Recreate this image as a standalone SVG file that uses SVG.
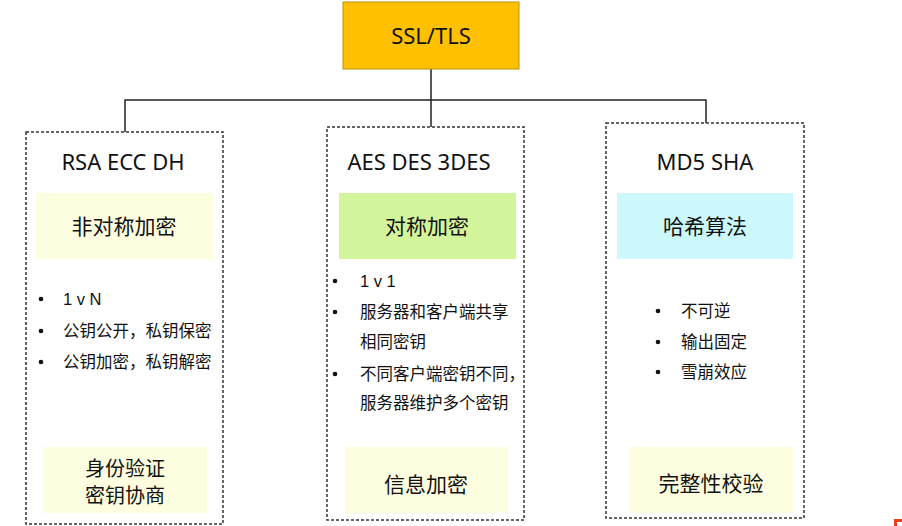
<svg xmlns="http://www.w3.org/2000/svg" width="902" height="526" viewBox="0 0 902 526">
<style>
.grp{fill:none;stroke:#333;stroke-width:1.5;stroke-dasharray:3 2}
.conn{fill:none;stroke:#222;stroke-width:1.5}
.t{font-family:"Noto Sans","Noto Sans CJK SC",sans-serif;fill:#111}
.hd{font-size:22px;text-anchor:middle}
.cn{font-family:"Noto Sans CJK SC","Noto Sans",sans-serif;fill:#111;font-size:21px;text-anchor:middle}
.cn2{font-family:"Noto Sans CJK SC","Noto Sans",sans-serif;fill:#111;font-size:20px;text-anchor:middle}
.li{font-family:"Liberation Sans","Noto Sans CJK SC",sans-serif;fill:#111;font-size:16.5px}
.bul{fill:#111}
</style>
<rect width="902" height="526" fill="#fff"/>
<g id="connectors">
<path class="conn" d="M431 69V100M125 132V100H706V123M431 100V127"/>
</g>
<g id="root">
<rect x="343" y="2" width="176" height="67" fill="#ffc000" stroke="#bf9000" stroke-width="1"/>
<text class="t" x="431" y="44" font-size="22" text-anchor="middle">SSL/TLS</text>
</g>
<g id="asym">
<rect class="grp" x="26" y="132" width="197" height="392"/>
<text class="t hd" x="123" y="170">RSA ECC DH</text>
<rect x="36" y="193" width="177" height="66" fill="#fdfde0"/>
<text class="cn" x="124" y="234">非对称加密</text>
<circle class="bul" cx="41" cy="299" r="2.3"/>
<circle class="bul" cx="41" cy="331" r="2.3"/>
<circle class="bul" cx="41" cy="362" r="2.3"/>
<text class="li" x="63" y="305">1 v N</text>
<text class="li" x="63" y="337">公钥公开，私钥保密</text>
<text class="li" x="63" y="368">公钥加密，私钥解密</text>
<rect x="43" y="447" width="164" height="66" fill="#fdfde0"/>
<text class="cn2" x="125" y="476">身份验证</text>
<text class="cn2" x="125" y="503">密钥协商</text>
</g>
<g id="sym">
<rect class="grp" x="327" y="127" width="197" height="393"/>
<text class="t hd" x="419" y="170">AES DES 3DES</text>
<rect x="339" y="193" width="177" height="66" fill="#d3f49b"/>
<text class="cn" x="427" y="234">对称加密</text>
<circle class="bul" cx="335" cy="281" r="2.3"/>
<circle class="bul" cx="335" cy="312" r="2.3"/>
<circle class="bul" cx="335" cy="374" r="2.3"/>
<text class="li" x="360" y="287">1 v 1</text>
<text class="li" x="360" y="318">服务器和客户端共享</text>
<text class="li" x="360" y="348">相同密钥</text>
<text class="li" x="360" y="380">不同客户端密钥不同，</text>
<text class="li" x="360" y="409">服务器维护多个密钥</text>
<rect x="345" y="447" width="163" height="66" fill="#fdfde0"/>
<text class="cn" x="426" y="492">信息加密</text>
</g>
<g id="hash">
<rect class="grp" x="606" y="123" width="198" height="395"/>
<text class="t hd" x="705" y="170">MD5 SHA</text>
<rect x="617" y="193" width="176" height="66" fill="#ccf8fc"/>
<text class="cn" x="705" y="234">哈希算法</text>
<circle class="bul" cx="658" cy="311" r="2.3"/>
<circle class="bul" cx="658" cy="342" r="2.3"/>
<circle class="bul" cx="658" cy="372" r="2.3"/>
<text class="li" x="681" y="317">不可逆</text>
<text class="li" x="681" y="348">输出固定</text>
<text class="li" x="681" y="378">雪崩效应</text>
<rect x="629" y="447" width="164" height="66" fill="#fdfde0"/>
<text class="cn" x="711" y="491">完整性校验</text>
</g>
<path d="M894 526V519H902V522H897V526Z" fill="#e8401c"/>
</svg>
